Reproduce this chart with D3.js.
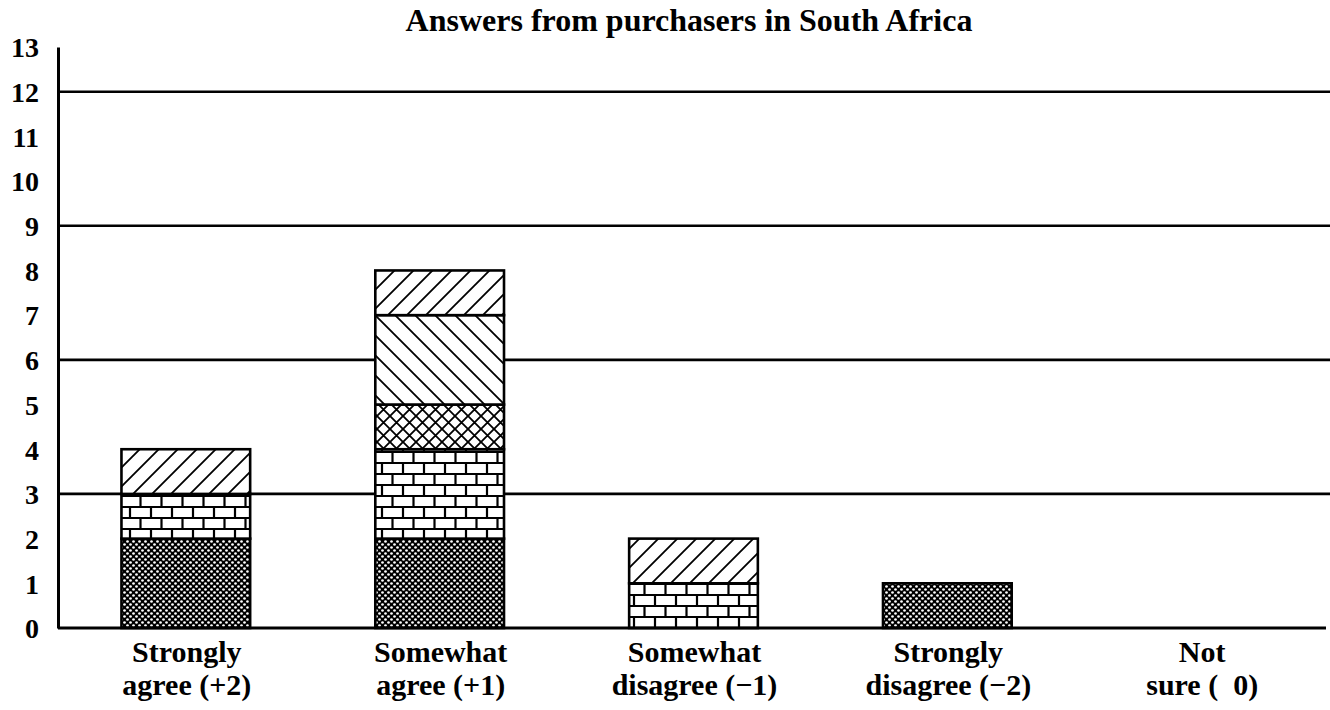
<!DOCTYPE html>
<html>
<head>
<meta charset="utf-8">
<script src="https://cdn.jsdelivr.net/npm/d3@7"></script>
<style>
  html, body { margin: 0; padding: 0; background: #fff; }
  svg { display: block; }
  text { font-family: "Liberation Serif", "Times New Roman", serif; font-weight: bold; fill: #000; white-space: pre; }
</style>
</head>
<body>
<svg id="chart" width="1330" height="710"></svg>
<script>
// Categories along the x axis (each label split over two lines)
const categories = ["Strongly agree (+2)", "Somewhat agree (+1)", "Somewhat disagree (-1)", "Strongly disagree (-2)", "Not sure ( 0)"];
const categoryLines = [
  ["Strongly", "agree (+2)"],
  ["Somewhat", "agree (+1)"],
  ["Somewhat", "disagree (\u22121)"],
  ["Strongly", "disagree (\u22122)"],
  ["Not", "sure (  0)"]
];

// Stacked segments, bottom to top
const seriesKeys = ["checker", "brick", "crosshatch", "backslash", "slash"];
const checker    = [2, 2, 0, 1, 0];
const brick      = [1, 2, 1, 0, 0];
const crosshatch = [0, 1, 0, 0, 0];
const backslash  = [0, 2, 0, 0, 0];
const slash      = [1, 1, 1, 0, 0];

const yTicks = d3.range(0, 14);
const gridValues = [3, 6, 9, 12];
const title = "Answers from purchasers in South Africa";

const rows = categories.map((c, i) => ({
  category: c,
  checker: checker[i], brick: brick[i], crosshatch: crosshatch[i],
  backslash: backslash[i], slash: slash[i]
}));

const svg = d3.select("#chart");
const margin = { left: 58, right: 3, top: 47, bottom: 82 };
const W = 1330, H = 710;

const x = d3.scaleBand().domain(categories).range([margin.left, W - 1]).paddingInner(0.493).paddingOuter(0.25);
const y = d3.scaleLinear().domain([0, 13]).range([H - margin.bottom, margin.top]);

// Fill patterns
const defs = svg.append("defs");

const pChecker = defs.append("pattern").attr("id", "p-checker")
  .attr("patternUnits", "userSpaceOnUse").attr("width", 6).attr("height", 6);
pChecker.append("rect").attr("width", 6).attr("height", 6).attr("fill", "#000");
pChecker.append("circle").attr("cx", 1.5).attr("cy", 1.5).attr("r", 1.35).attr("fill", "#fff");
pChecker.append("circle").attr("cx", 4.5).attr("cy", 4.5).attr("r", 1.35).attr("fill", "#fff");

const pBrick = defs.append("pattern").attr("id", "p-brick")
  .attr("patternUnits", "userSpaceOnUse").attr("width", 21).attr("height", 22);
pBrick.append("rect").attr("width", 21).attr("height", 22).attr("fill", "#fff");
pBrick.append("path")
  .attr("d", "M0,1 H21 M0,12 H21 M4,1 V12 M14.5,12 V22")
  .attr("stroke", "#000").attr("stroke-width", 2.2).attr("fill", "none");

const pCross = defs.append("pattern").attr("id", "p-cross")
  .attr("patternUnits", "userSpaceOnUse").attr("width", 13).attr("height", 13);
pCross.append("rect").attr("width", 13).attr("height", 13).attr("fill", "#fff");
pCross.append("path")
  .attr("d", "M-1,-1 L14,14 M-1,14 L14,-1")
  .attr("stroke", "#000").attr("stroke-width", 1.8).attr("fill", "none");

const pBack = defs.append("pattern").attr("id", "p-backslash")
  .attr("patternUnits", "userSpaceOnUse").attr("width", 20).attr("height", 20);
pBack.append("rect").attr("width", 20).attr("height", 20).attr("fill", "#fff");
pBack.append("path")
  .attr("d", "M-2,-2 L22,22 M-12,8 L2,22 M8,-12 L32,12")
  .attr("stroke", "#000").attr("stroke-width", 1.8).attr("fill", "none");

const pSlash = defs.append("pattern").attr("id", "p-slash")
  .attr("patternUnits", "userSpaceOnUse").attr("width", 19).attr("height", 19);
pSlash.append("rect").attr("width", 19).attr("height", 19).attr("fill", "#fff");
pSlash.append("path")
  .attr("d", "M-2,21 L21,-2 M-10,10 L10,-10 M9,29 L29,9")
  .attr("stroke", "#000").attr("stroke-width", 1.8).attr("fill", "none");

const fills = { checker: "url(#p-checker)", brick: "url(#p-brick)", crosshatch: "url(#p-cross)", backslash: "url(#p-backslash)", slash: "url(#p-slash)" };

// Title
svg.append("text").attr("x", 689).attr("y", 31).attr("text-anchor", "middle")
  .attr("font-size", 32).text(title);

// Horizontal gridlines
svg.append("g").selectAll("line").data(gridValues).join("line")
  .attr("x1", margin.left).attr("x2", W)
  .attr("y1", d => y(d)).attr("y2", d => y(d))
  .attr("stroke", "#000").attr("stroke-width", 2.6);

// Stacked bars
const stacked = d3.stack().keys(seriesKeys)(rows);
svg.append("g").selectAll("g").data(stacked).join("g")
  .attr("fill", d => fills[d.key])
  .selectAll("rect").data(d => d.filter(s => s[1] - s[0] > 0)).join("rect")
  .attr("x", d => x(d.data.category))
  .attr("width", x.bandwidth())
  .attr("y", d => y(d[1]))
  .attr("height", d => y(d[0]) - y(d[1]))
  .attr("stroke", "#000").attr("stroke-width", 2.6);

// Y axis
const yAxis = d3.axisLeft(y).tickValues(yTicks).tickSize(0).tickPadding(18).tickFormat(d3.format("d"));
const gy = svg.append("g").attr("transform", `translate(${margin.left},0)`).call(yAxis);
gy.select(".domain").attr("stroke", "#000").attr("stroke-width", 3);
gy.selectAll(".tick text").attr("font-size", 28).attr("font-family", "Liberation Serif, serif")
  .attr("font-weight", "bold").attr("dy", "0.35em").attr("x", -19);

// X axis baseline
const xAxis = d3.axisBottom(x).tickSize(0).tickFormat("");
const gx = svg.append("g").attr("transform", `translate(0,${y(0)})`).call(xAxis);
gx.select(".domain").attr("d", `M${margin.left},0H${W - 4}`).attr("stroke", "#000").attr("stroke-width", 3);

// Category labels (two lines each)
const labels = svg.append("g").selectAll("text").data(categories).join("text")
  .attr("text-anchor", "middle").attr("font-size", 30)
  .attr("x", d => x(d) + x.bandwidth() / 2 + 1);
labels.selectAll("tspan").data((d, i) => categoryLines[i]).join("tspan")
  .attr("x", function() { return this.parentNode.getAttribute("x"); })
  .attr("y", (d, i) => 662 + i * 33)
  .text(d => d);
</script>
</body>
</html>
